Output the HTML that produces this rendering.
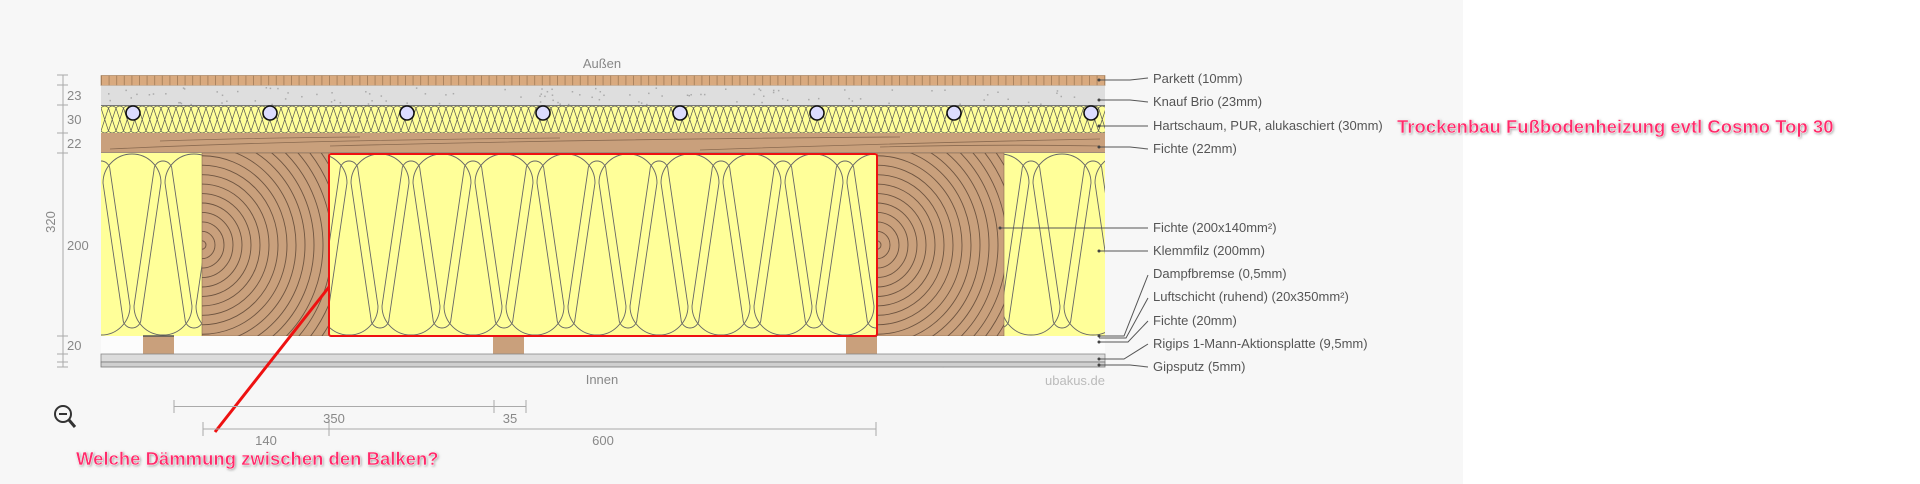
<!DOCTYPE html>
<html><head><meta charset="utf-8"><style>
html,body{margin:0;padding:0;background:#fff;width:1920px;height:484px;overflow:hidden}
svg{display:block}
text{font-family:"Liberation Sans",sans-serif}
</style></head><body>
<svg id="s" width="1920" height="484" viewBox="0 0 1920 484" xmlns="http://www.w3.org/2000/svg">
<defs>
<pattern id="parq" x="101" y="0" width="7.6" height="20" patternUnits="userSpaceOnUse"><rect width="7.6" height="20" fill="#d9aa7f"/><line x1="0.5" y1="0" x2="0.5" y2="20" stroke="#a07a55" stroke-width="0.8"/></pattern>
<pattern id="foam" x="101" y="106" width="7.5" height="27" patternUnits="userSpaceOnUse"><rect width="7.5" height="27" fill="#ffff99"/><path d="M0,2 Q3.75,-2 7.5,2 L0,25 Q3.75,29 7.5,25 Z" fill="none" stroke="#555" stroke-width="0.7"/></pattern>
<pattern id="lobe" x="101" y="153" width="62" height="183" patternUnits="userSpaceOnUse"><rect width="62" height="183" fill="#ffff99"/>
<path d="M2,30 A29,29 0 0 1 60,30 L40,166 A9,9 0 0 1 22,166 Z" fill="none" stroke="#666" stroke-width="0.9"/>
<path d="M-29,153 A29,29 0 0 0 29,153 L9,17 A9,9 0 0 0 -9,17 Z" fill="none" stroke="#666" stroke-width="0.9"/>
<path d="M33,153 A29,29 0 0 0 91,153 L71,17 A9,9 0 0 0 53,17 Z" fill="none" stroke="#666" stroke-width="0.9"/>
</pattern>
<clipPath id="b1"><rect x="202" y="153" width="127" height="183"/></clipPath>
<clipPath id="b2"><rect x="877" y="153" width="127" height="183"/></clipPath>
<filter id="sh" x="-5%" y="-30%" width="110%" height="160%"><feDropShadow dx="1" dy="1" stdDeviation="1.2" flood-color="#888" flood-opacity="0.7"/></filter>
</defs>
<rect x="0" y="0" width="1463" height="484" fill="#f7f7f7"/>
<text x="602" y="68" font-size="13" fill="#888" text-anchor="middle">Außen</text>
<rect x="101" y="75.5" width="1004" height="10" fill="url(#parq)" stroke="#a07a55" stroke-width="0.6"/>
<rect x="101" y="85.5" width="1004" height="20" fill="#dedede"/>
<g id="dots" fill="#aaa"></g>
<line x1="101" y1="105.5" x2="1105" y2="105.5" stroke="#777"/>
<rect x="101" y="106" width="1004" height="27" fill="url(#foam)"/>
<rect x="101" y="133" width="1004" height="20" fill="#c9a07c"/>
<g stroke="#8a6a50" stroke-width="0.8" fill="none">
<path d="M110,149 Q300,140 560,138"/><path d="M330,146 Q600,139 900,137"/><path d="M700,150 Q900,143 1100,139"/><path d="M160,141 Q250,138 360,137"/><path d="M880,147 Q1000,144 1100,146"/>
</g>
<line x1="101" y1="153" x2="1105" y2="153" stroke="#777"/>
<rect x="101" y="153" width="1004" height="183" fill="url(#lobe)"/>
<rect x="202" y="153" width="127" height="183" fill="#c9a07c" stroke="#8a6a50" stroke-width="0.6"/>
<rect x="877" y="153" width="127" height="183" fill="#c9a07c" stroke="#8a6a50" stroke-width="0.6"/>
<g id="g1" clip-path="url(#b1)" fill="none" stroke="#6e5440" stroke-width="0.9"></g>
<g id="g2" clip-path="url(#b2)" fill="none" stroke="#6e5440" stroke-width="0.9"></g>
<rect x="101" y="336" width="1004" height="18" fill="#fcfcfc"/>
<rect x="143" y="336" width="31" height="18" fill="#c9a07c"/><rect x="493" y="336" width="31" height="18" fill="#c9a07c"/><rect x="846" y="336" width="31" height="18" fill="#c9a07c"/>
<g stroke="#555" stroke-width="1.5"><line x1="143" y1="336" x2="174" y2="336"/><line x1="493" y1="336" x2="524" y2="336"/><line x1="846" y1="336" x2="877" y2="336"/></g>
<rect x="101" y="354" width="1004" height="8" fill="#dcdcdc" stroke="#888" stroke-width="0.8"/>
<rect x="101" y="362" width="1004" height="5" fill="#cfcfcf" stroke="#777" stroke-width="0.8"/>
<g fill="#dcdcff" stroke="#111" stroke-width="1.6">
<circle cx="133" cy="113" r="7"/><circle cx="270" cy="113" r="7"/><circle cx="407" cy="113" r="7"/><circle cx="543" cy="113" r="7"/><circle cx="680" cy="113" r="7"/><circle cx="817" cy="113" r="7"/><circle cx="954" cy="113" r="7"/><circle cx="1091" cy="113" r="7"/>
</g>
<rect x="329" y="154" width="548" height="182" fill="none" stroke="#ee1111" stroke-width="2" rx="2"/>
<line x1="329" y1="287" x2="215" y2="432" stroke="#ee1111" stroke-width="3"/>
<g stroke="#aaa" stroke-width="1"><line x1="63" y1="75" x2="63" y2="367"/>
<line x1="57" y1="75" x2="68" y2="75"/><line x1="57" y1="85" x2="68" y2="85"/><line x1="57" y1="105" x2="68" y2="105"/><line x1="57" y1="133" x2="68" y2="133"/><line x1="57" y1="153" x2="68" y2="153"/><line x1="57" y1="336" x2="68" y2="336"/><line x1="57" y1="354" x2="68" y2="354"/><line x1="57" y1="362" x2="68" y2="362"/><line x1="57" y1="367" x2="68" y2="367"/></g>
<g font-size="13" fill="#888"><text x="67" y="100">23</text><text x="67" y="124">30</text><text x="67" y="148">22</text><text x="67" y="250">200</text><text x="67" y="350">20</text>
<text transform="translate(55,222) rotate(-90)" text-anchor="middle">320</text></g>
<g stroke="#aaa"><line x1="174" y1="406.5" x2="526" y2="406.5"/><line x1="174" y1="400" x2="174" y2="413"/><line x1="494" y1="400" x2="494" y2="413"/><line x1="526" y1="400" x2="526" y2="413"/>
<line x1="203" y1="429" x2="876" y2="429"/><line x1="203" y1="422" x2="203" y2="436"/><line x1="329" y1="422" x2="329" y2="436"/><line x1="876" y1="422" x2="876" y2="436"/></g>
<g font-size="13" fill="#888" text-anchor="middle"><text x="334" y="423">350</text><text x="510" y="423">35</text><text x="266" y="445">140</text><text x="603" y="445">600</text>
<text x="602" y="384">Innen</text></g>
<text x="1105" y="385" font-size="13" fill="#bbb" text-anchor="end">ubakus.de</text>
<g stroke="#333" stroke-width="2" fill="none"><circle cx="63" cy="414" r="8"/><line x1="69" y1="420" x2="75" y2="427" stroke-width="3"/><line x1="59" y1="414" x2="67" y2="414"/></g>
<g stroke="#555" stroke-width="1" fill="none">
<path d="M1099,80 L1130,80 L1148,78"/><path d="M1099,100 L1130,100 L1148,102"/><path d="M1099,126 L1148,126"/><path d="M1099,147 L1130,147 L1148,149"/>
<path d="M1000,228 L1148,228"/><path d="M1099,251 L1148,251"/>
<path d="M1099,336 L1124,336 L1148,275"/><path d="M1099,338 L1126,338 L1148,298"/><path d="M1099,342 L1128,342 L1148,321"/>
<path d="M1099,359 L1124,359 L1148,344"/><path d="M1099,365 L1130,365 L1148,367"/>
</g>
<g fill="#444"><circle cx="1099" cy="80" r="1.5"/><circle cx="1099" cy="100" r="1.5"/><circle cx="1099" cy="126" r="1.5"/><circle cx="1099" cy="147" r="1.5"/><circle cx="1000" cy="228" r="1.5"/><circle cx="1099" cy="251" r="1.5"/><circle cx="1099" cy="336" r="1.5"/><circle cx="1099" cy="342" r="1.5"/><circle cx="1099" cy="359" r="1.5"/><circle cx="1099" cy="365" r="1.5"/></g>
<g font-size="13" fill="#555">
<text x="1153" y="83">Parkett (10mm)</text><text x="1153" y="106">Knauf Brio (23mm)</text><text x="1153" y="130">Hartschaum, PUR, alukaschiert (30mm)</text><text x="1153" y="153">Fichte (22mm)</text>
<text x="1153" y="232">Fichte (200x140mm²)</text><text x="1153" y="255">Klemmfilz (200mm)</text><text x="1153" y="278">Dampfbremse (0,5mm)</text><text x="1153" y="301">Luftschicht (ruhend) (20x350mm²)</text><text x="1153" y="325">Fichte (20mm)</text><text x="1153" y="348">Rigips 1-Mann-Aktionsplatte (9,5mm)</text><text x="1153" y="371">Gipsputz (5mm)</text>
</g>
<g font-size="18.5" font-weight="bold" fill="#ff2a6a" filter="url(#sh)" stroke="#fff" stroke-width="0.4">
<text x="1397" y="133">Trockenbau Fußbodenheizung evtl Cosmo Top 30</text>
<text x="76" y="465">Welche Dämmung zwischen den Balken?</text>
</g>
</svg>
<script>
var ns="http://www.w3.org/2000/svg";
function el(p,t,a){var e=document.createElementNS(ns,t);for(var k in a)e.setAttribute(k,a[k]);p.appendChild(e);return e;}
var d=document.getElementById("dots");var seed=7;function r(){seed=(seed*9301+49297)%233280;return seed/233280;}
for(var i=0;i<110;i++){el(d,"rect",{x:101+r()*1000,y:87+r()*17,width:1.5,height:1.5});}
for(var i=0;i<80;i++){el(d,"rect",{x:101+r()*1000,y:355+r()*11,width:1.3,height:1.3});}
[["g1",202],["g2",877]].forEach(function(g){var p=document.getElementById(g[0]);
for(var rr=4;rr<260;rr+=9){el(p,"ellipse",{cx:g[1],cy:245,rx:rr*1.0,ry:rr*1.05});}});
</script>
</body></html>
